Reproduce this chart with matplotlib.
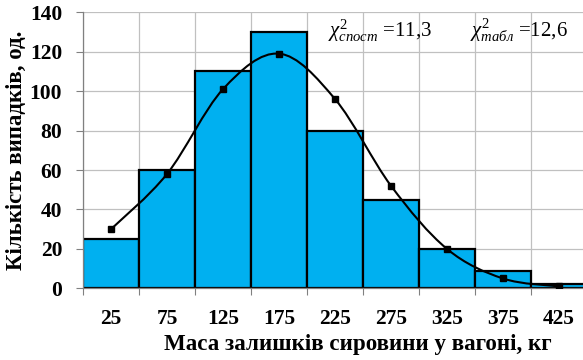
import matplotlib

matplotlib.use("Agg")
import matplotlib.pyplot as plt
import numpy as np
from matplotlib.path import Path
from matplotlib.patches import PathPatch

# class midpoints (kg), observed counts, theoretical (normal) counts
centers = [25, 75, 125, 175, 225, 275, 325, 375, 425]
observed = [25, 60, 110, 130, 80, 45, 20, 9, 2]
expected = [30, 58, 101, 119, 96, 52, 20, 5, 1]
y_ticks = [0, 20, 40, 60, 80, 100, 120, 140]
chi_obs = "11,3"
chi_tab = "12,6"

BAR_COLOR = "#00B0F0"
GRID_COLOR = "#c0c0c0"

plt.rcParams["font.family"] = ["Liberation Serif", "DejaVu Serif"]
plt.rcParams["mathtext.fontset"] = "custom"
plt.rcParams["mathtext.rm"] = "Liberation Serif"
plt.rcParams["mathtext.it"] = "Liberation Serif:italic"


def smooth_path(x, y, tension=1 / 6):
    # Catmull-Rom style bezier, like an Excel smoothed line
    x = np.asarray(x, float)
    y = np.asarray(y, float)
    pts = np.column_stack([x, y])
    verts = [pts[0]]
    codes = [Path.MOVETO]
    for i in range(len(pts) - 1):
        p0 = pts[max(i - 1, 0)]
        p1 = pts[i]
        p2 = pts[i + 1]
        p3 = pts[min(i + 2, len(pts) - 1)]
        c1 = p1 + (p2 - p0) * tension
        c2 = p2 - (p3 - p1) * tension
        verts += [c1, c2, p2]
        codes += [Path.CURVE4] * 3
    return Path(verts, codes)


fig = plt.figure(figsize=(5.83, 3.6), dpi=100)
width = 50
ax_left = 83 / 583
ax_right = (83 + 9 * 56) / 583
ax = fig.add_axes([ax_left, 0.199, ax_right - ax_left, 0.966 - 0.199])

ax.bar(centers, observed, width=width, color=BAR_COLOR, edgecolor="black",
       linewidth=1.6, zorder=2)

ax.add_patch(PathPatch(smooth_path(centers, expected), facecolor="none",
                       edgecolor="black", linewidth=1.5, zorder=3))
ax.plot(centers, expected, linestyle="none", marker="s", markersize=3.8,
        color="black", zorder=4)

ax.set_xlim(0, 450)
ax.set_ylim(0, 140)
ax.set_yticks(y_ticks)
ax.set_yticklabels([str(v) for v in y_ticks], fontsize=15.5, fontweight="bold")
ax.set_xticks(centers)
ax.set_xticklabels([str(c) for c in centers], fontsize=15.5, fontweight="bold")
ax.set_xticks(np.arange(0, 451, width), minor=True)
ax.tick_params(axis="x", which="major", length=0, pad=15)
ax.tick_params(axis="x", which="minor", length=5, color="#808080", width=0.8)
ax.tick_params(axis="y", length=5, color="#808080", width=0.8, pad=10)

ax.grid(True, which="minor", axis="x", color=GRID_COLOR, linewidth=0.9, zorder=0)
ax.grid(True, which="major", axis="y", color=GRID_COLOR, linewidth=0.9, zorder=0)
ax.set_axisbelow(True)
for side in ["top", "right"]:
    ax.spines[side].set_visible(False)
for side in ["left", "bottom"]:
    ax.spines[side].set_color("#808080")
    ax.spines[side].set_linewidth(0.9)

ax.set_xlabel("Маса залишків сировини у вагоні, кг", fontsize=16.6,
              fontweight="bold")
ax.xaxis.set_label_coords(0.546, -0.165)
ax.set_ylabel("Кількість випадків, од.", fontsize=16.5, fontweight="bold",
              labelpad=2)

ax.text(0.563, 0.915, r"$\chi^{2}_{\mathit{спост}}$" + " =" + chi_obs,
        transform=fig.transFigure, fontsize=15, va="center", ha="left")
ax.text(0.806, 0.915, r"$\chi^{2}_{\mathit{табл}}$" + " =" + chi_tab,
        transform=fig.transFigure, fontsize=15, va="center", ha="left")

fig.savefig("out.png", dpi=100)
